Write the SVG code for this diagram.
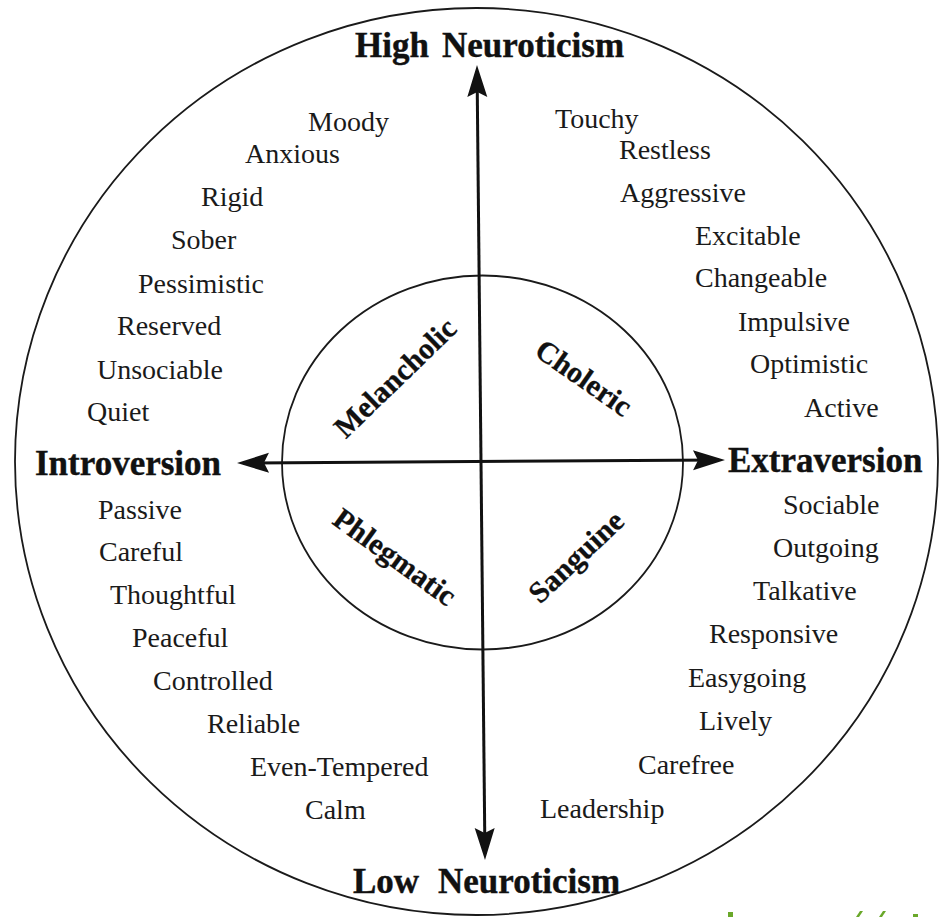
<svg xmlns="http://www.w3.org/2000/svg" width="939" height="917" viewBox="0 0 939 917">
<style>
  .ring { fill: none; stroke: #1a1a1a; stroke-width: 1.8; }
  .axis { fill: none; stroke: #111; stroke-width: 3; }
  .w { font-family: "Liberation Serif", "Times New Roman", serif; font-size: 28px; fill: #1a1a1a; }
  .b { font-family: "Liberation Serif", "Times New Roman", serif; font-size: 35px; font-weight: bold; fill: #111; stroke: #111; stroke-width: 0.4; }
  .q { font-family: "Liberation Serif", "Times New Roman", serif; font-size: 30px; font-weight: bold; fill: #111; stroke: #111; stroke-width: 0.3; text-anchor: middle; }
  .g { fill: #6aa82a; }
</style>
<defs>
  <marker id="arrow" markerUnits="userSpaceOnUse" viewBox="-30 -12 40 24" markerWidth="40" markerHeight="24" refX="0" refY="0" orient="auto-start-reverse">
    <path d="M6,0 L-26,-10 L-21,0 L-26,10 Z" fill="#111"/>
  </marker>
</defs>
<rect width="939" height="917" fill="#ffffff"/>

<g id="outer-circle"><ellipse class="ring" cx="476.5" cy="461.5" rx="461.5" ry="453.5"/></g>
<g id="inner-circle"><ellipse class="ring" cx="482.5" cy="462.5" rx="200.5" ry="187"/></g>

<g id="connectors">
  <line class="axis" x1="477.06" y1="71" x2="484.94" y2="854" marker-start="url(#arrow)" marker-end="url(#arrow)"/>
  <line class="axis" x1="243" y1="463" x2="719" y2="460" marker-start="url(#arrow)" marker-end="url(#arrow)"/>
</g>

<g id="high-neuroticism"><text class="b" y="57"><tspan x="355">High</tspan><tspan x="442">Neuroticism</tspan></text></g>
<g id="low-neuroticism"><text class="b" y="893"><tspan x="353">Low</tspan><tspan x="438">Neuroticism</tspan></text></g>
<g id="introversion"><text class="b" x="35" y="475">Introversion</text></g>
<g id="extraversion"><text class="b" x="728" y="472">Extraversion</text></g>

<g id="melancholic"><text class="q" transform="translate(402,385) rotate(-44)">Melancholic</text></g>
<g id="choleric"><text class="q" transform="translate(578,386) rotate(35)">Choleric</text></g>
<g id="phlegmatic"><text class="q" transform="translate(389,565) rotate(36)">Phlegmatic</text></g>
<g id="sanguine"><text class="q" transform="translate(583,564) rotate(-43.5)">Sanguine</text></g>

<g id="melancholic-traits">
  <text class="w" x="308" y="131">Moody</text>
  <text class="w" x="245" y="163">Anxious</text>
  <text class="w" x="201" y="206">Rigid</text>
  <text class="w" x="171" y="249">Sober</text>
  <text class="w" x="138" y="293">Pessimistic</text>
  <text class="w" x="117" y="335">Reserved</text>
  <text class="w" x="97" y="379">Unsociable</text>
  <text class="w" x="87" y="421">Quiet</text>
</g>
<g id="choleric-traits">
  <text class="w" x="555" y="128">Touchy</text>
  <text class="w" x="619" y="159">Restless</text>
  <text class="w" x="620" y="202">Aggressive</text>
  <text class="w" x="695" y="245">Excitable</text>
  <text class="w" x="695" y="287">Changeable</text>
  <text class="w" x="738" y="331">Impulsive</text>
  <text class="w" x="750" y="373">Optimistic</text>
  <text class="w" x="804" y="417">Active</text>
</g>
<g id="phlegmatic-traits">
  <text class="w" x="98" y="519">Passive</text>
  <text class="w" x="99" y="561">Careful</text>
  <text class="w" x="110" y="604">Thoughtful</text>
  <text class="w" x="132" y="647">Peaceful</text>
  <text class="w" x="153" y="690">Controlled</text>
  <text class="w" x="207" y="733">Reliable</text>
  <text class="w" x="250" y="776">Even-Tempered</text>
  <text class="w" x="305" y="819">Calm</text>
</g>
<g id="sanguine-traits">
  <text class="w" x="783" y="514">Sociable</text>
  <text class="w" x="773" y="557">Outgoing</text>
  <text class="w" x="753" y="600">Talkative</text>
  <text class="w" x="709" y="643">Responsive</text>
  <text class="w" x="688" y="687">Easygoing</text>
  <text class="w" x="699" y="730">Lively</text>
  <text class="w" x="638" y="774">Carefree</text>
  <text class="w" x="540" y="818">Leadership</text>
</g>

<g id="edge-marks">
  <rect class="g" x="728" y="912" width="5" height="5"/>
  <polygon class="g" points="856,917 860,911 863,911 859,917"/>
  <polygon class="g" points="879,917 883,911 886,911 882,917"/>
  <rect class="g" x="913" y="914" width="5" height="3"/>
</g>
</svg>
